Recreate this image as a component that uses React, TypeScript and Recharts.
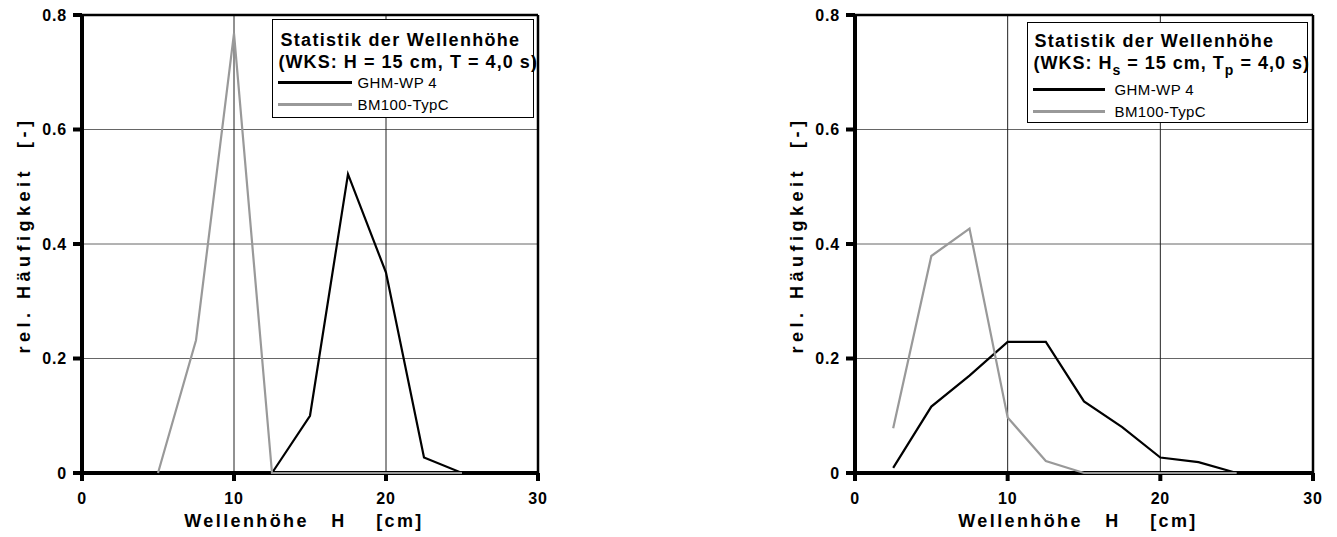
import React from 'react';
import { LineChart, Line, XAxis, YAxis, ReferenceLine, Legend } from 'recharts';

// Wave heights H [cm]
const hValues = [2.5, 5, 7.5, 10, 12.5, 15, 17.5, 20, 22.5, 25, 27.5, 30];
// Left chart (WKS: H = 15 cm, T = 4,0 s)
const leftGhm = [0, 0, 0, 0, 0, 0.1, 0.522, 0.35, 0.027, 0, 0, 0];
const leftBm = [null, 0, 0.232, 0.768, 0, 0, 0, 0, 0, 0, null, null];
// Right chart (WKS: Hs = 15 cm, Tp = 4,0 s)
const rightGhm = [0.009, 0.116, 0.17, 0.229, 0.229, 0.125, 0.08, 0.027, 0.019, 0, 0, 0];
const rightBm = [0.078, 0.379, 0.427, 0.097, 0.021, 0, 0, 0, 0, 0, null, null];

const seriesNames = ['GHM-WP 4', 'BM100-TypC'];
const seriesColors = ['#000000', '#999999'];
const xMajorTicks = [0, 10, 20, 30];
const yMajorTicks = [0, 0.2, 0.4, 0.6, 0.8];
const yTickLabels = ['0', '0.2', '0.4', '0.6', '0.8'];
const gridY = [0.2, 0.4, 0.6];
const gridX = [10, 20];
const xTitle = 'Wellenhöhe   H    [cm]';
const yTitle = 'rel. Häufigkeit  [-]';
const legendTitle = 'Statistik der Wellenhöhe';

const FONT = '"Liberation Sans", Arial, Helvetica, sans-serif';

const leftData = hValues.map((h, i) => ({ h, ghm: leftGhm[i], bm: leftBm[i] }));
const rightData = hValues.map((h, i) => ({ h, ghm: rightGhm[i], bm: rightBm[i] }));

const tickStyle = { fontFamily: FONT, fontWeight: 'bold', fontSize: 16, fill: '#000', letterSpacing: 0.8 } as any;

function yFmt(v: number) {
  const i = yMajorTicks.findIndex((t) => Math.abs(t - v) < 1e-9);
  return i >= 0 ? yTickLabels[i] : '';
}

function XTitle(props: any) {
  const vb = props.viewBox || { x: 82, y: 473, width: 456, height: 64 };
  return (
    <text x={vb.x + vb.width / 2 - 6} y={vb.y + 54} textAnchor="middle" fontFamily={FONT} fontWeight="bold" fontSize={18} letterSpacing={2.4} fill="#000" style={{ whiteSpace: 'pre' }}>
      {xTitle}
    </text>
  );
}

function YTitle(props: any) {
  const vb = props.viewBox || { x: 0, y: 15, width: 82, height: 458 };
  return (
    <text x={0} y={0} transform={`translate(${vb.x + 30},${vb.y + vb.height / 2 - 9}) rotate(-90)`} textAnchor="middle" fontFamily={FONT} fontWeight="bold" fontSize={18} letterSpacing={4.5} fill="#000" style={{ whiteSpace: 'pre' }}>
      {yTitle}
    </text>
  );
}

const txt = (left: number, baseline: number, fs: number, bold: boolean, ls: number): React.CSSProperties => ({
  position: 'absolute',
  left,
  top: baseline - 0.8465 * fs,
  fontFamily: FONT,
  fontSize: fs,
  lineHeight: `${fs}px`,
  fontWeight: bold ? 'bold' : 'normal',
  letterSpacing: ls,
  whiteSpace: 'nowrap',
  color: '#000',
});

function LegendBoxLeft() {
  const b = 1.5;
  return (
    <div style={{ position: 'relative', width: 262, height: 99, boxSizing: 'border-box', border: `${b}px solid #000`, background: '#fff' }}>
      <div style={txt(9 - b, 28 - b, 18, true, 1.3)}>{legendTitle}</div>
      <div style={txt(7 - b, 50 - b, 18, true, 1.05)}>(WKS: H = 15 cm, T = 4,0 s)</div>
      <div style={{ position: 'absolute', left: 6 - b, top: 64 - b - 1.1, width: 74, height: 2.2, background: seriesColors[0] }} />
      <div style={txt(86 - b, 69 - b, 15, false, 0.4)}>{seriesNames[0]}</div>
      <div style={{ position: 'absolute', left: 6 - b, top: 86 - b - 1.1, width: 74, height: 2.2, background: seriesColors[1] }} />
      <div style={txt(86 - b, 91 - b, 15, false, 0.4)}>{seriesNames[1]}</div>
    </div>
  );
}

function LegendBoxRight() {
  const b = 1.5;
  const sub: React.CSSProperties = { fontSize: 14, position: 'relative', top: 6 };
  return (
    <div style={{ position: 'relative', width: 281, height: 101, boxSizing: 'border-box', border: `${b}px solid #000`, background: '#fff' }}>
      <div style={txt(8 - b, 26 - b, 18, true, 1.3)}>{legendTitle}</div>
      <div style={txt(7 - b, 48 - b, 18, true, 1.0)}>
        (WKS: H<span style={sub}>s</span> = 15 cm, T<span style={sub}>p</span> = 4,0 s)
      </div>
      <div style={{ position: 'absolute', left: 6 - b, top: 68 - b - 1.1, width: 72, height: 2.2, background: seriesColors[0] }} />
      <div style={txt(88 - b, 73 - b, 15, false, 0.4)}>{seriesNames[0]}</div>
      <div style={{ position: 'absolute', left: 6 - b, top: 90 - b - 1.1, width: 72, height: 2.2, background: seriesColors[1] }} />
      <div style={txt(88 - b, 95 - b, 15, false, 0.4)}>{seriesNames[1]}</div>
    </div>
  );
}

function Panel({ data, width, right }: { data: any[]; width: number; right: boolean }) {
  return (
    <LineChart width={width} height={537} data={data} margin={{ top: 15, right: 22, bottom: 0, left: 0 }}>
      <XAxis
        dataKey="h"
        type="number"
        domain={[0, 30]}
        ticks={xMajorTicks}
        interval={0}
        height={64}
        tickSize={8}
        tickMargin={12}
        stroke="#000000"
        axisLine={{ stroke: '#000000', strokeWidth: 4 }}
        tickLine={{ stroke: '#000000', strokeWidth: 4 }}
        tick={tickStyle}
        label={(p: any) => <XTitle {...p} />}
      />
      <YAxis
        type="number"
        domain={[0, 0.8]}
        ticks={yMajorTicks}
        interval={0}
        width={82}
        tickSize={9}
        tickMargin={6}
        stroke="#000000"
        tickFormatter={yFmt}
        axisLine={{ stroke: '#000000', strokeWidth: 4 }}
        tickLine={{ stroke: '#000000', strokeWidth: 4 }}
        tick={tickStyle}
        label={(p: any) => <YTitle {...p} />}
      />
      {gridY.map((g) => (
        <ReferenceLine key={'gy' + g} y={g} stroke="#666666" strokeWidth={1} />
      ))}
      {gridX.map((g) => (
        <ReferenceLine key={'gx' + g} x={g} stroke="#222222" strokeWidth={1} />
      ))}
      <ReferenceLine y={0.8} stroke="#000000" strokeWidth={2.5} ifOverflow="visible" />
      <ReferenceLine x={30} stroke="#000000" strokeWidth={2.5} ifOverflow="visible" />
      <Legend
        verticalAlign="middle"
        align="center"
        layout="horizontal"
        content={() => (right ? <LegendBoxRight /> : <LegendBoxLeft />)}
        wrapperStyle={{ position: 'absolute', left: right ? 254 : 272, top: right ? 22 : 19, width: right ? 281 : 262, height: right ? 101 : 99, margin: 0, padding: 0 }}
      />
      <Line dataKey="ghm" name={seriesNames[0]} type="linear" stroke={seriesColors[0]} strokeWidth={2.2} dot={false} isAnimationActive={false} connectNulls={false} {...({ zIndex: 600 } as any)} />
      <Line dataKey="bm" name={seriesNames[1]} type="linear" stroke={seriesColors[1]} strokeWidth={2.2} dot={false} isAnimationActive={false} connectNulls={false} {...({ zIndex: 601 } as any)} />
    </LineChart>
  );
}

export default function App() {
  return (
    <div style={{ position: 'absolute', left: 0, top: 0, width: 1337, height: 537, background: '#fff', overflow: 'hidden' }}>
      <div style={{ position: 'absolute', left: 0, top: 0 }}>
        <Panel data={leftData} width={560} right={false} />
      </div>
      <div style={{ position: 'absolute', left: 773, top: 0 }}>
        <Panel data={rightData} width={562} right={true} />
      </div>
    </div>
  );
}
